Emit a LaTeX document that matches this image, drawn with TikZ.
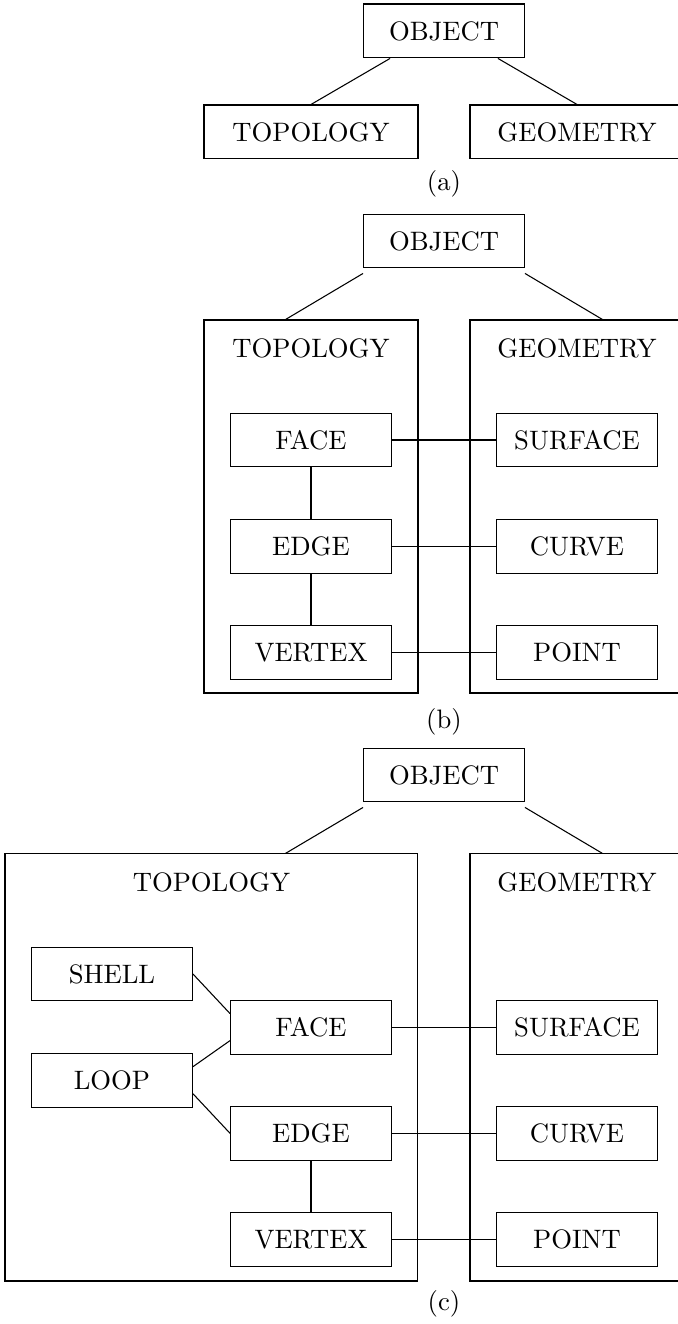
\documentclass[tikz,border=0pt]{standalone}
\usetikzlibrary{calc}
\begin{document}
\begin{tikzpicture}[
    box/.style={draw, minimum width=2.12cm, minimum height=0.71cm, inner sep=0pt},
    widebox/.style={draw, minimum width=2.821cm, minimum height=0.71cm, inner sep=0pt},
    frame/.style={draw, inner sep=0pt},
  ]
  \useasboundingbox (0,0) rectangle (8.936,17.45);

  % (a) object split into topology and geometry
  \node[box] (objA) at (5.852,17.042) {OBJECT};
  \node[widebox] (topoA) at (4.099,15.711) {TOPOLOGY};
  \node[widebox] (geoA) at (7.605,15.711) {GEOMETRY};
  \draw ($(objA.south west)!0.167!(objA.south east)$) -- (topoA.north);
  \draw ($(objA.south east)!0.167!(objA.south west)$) -- (geoA.north);
  \node (capA) at (5.852,15.025) {(a)};

  % (b) face, edge, vertex and their geometry
  \node[box] (objB) at (5.852,14.274) {OBJECT};
  \node[frame, minimum width=2.821cm, minimum height=4.916cm] (topoB) at (4.099,10.774) {};
  \node[frame, minimum width=2.821cm, minimum height=4.916cm] (geoB) at (7.605,10.774) {};
  \node (topoBtxt) at (4.099,12.864) {TOPOLOGY};
  \node (geoBtxt) at (7.605,12.864) {GEOMETRY};
  \draw ([yshift=-0.066cm]objB.south west) -- ([xshift=-1.753cm]topoB.north east);
  \draw ([yshift=-0.066cm]objB.south east) -- ([xshift=1.753cm]geoB.north west);
  \node[box] (faceB) at (4.099,11.651) {FACE};
  \node[box] (edgeB) at (4.099,10.251) {EDGE};
  \node[box] (vertB) at (4.099,8.851) {VERTEX};
  \node[box] (surfB) at (7.605,11.651) {SURFACE};
  \node[box] (curveB) at (7.605,10.251) {CURVE};
  \node[box] (pointB) at (7.605,8.851) {POINT};
  \draw (faceB) -- (edgeB);
  \draw (edgeB) -- (vertB);
  \draw (faceB) -- (surfB);
  \draw (edgeB) -- (curveB);
  \draw (vertB) -- (pointB);
  \node (capB) at (5.852,7.934) {(b)};

  % (c) with shell and loop added
  \node[box] (objC) at (5.852,7.236) {OBJECT};
  \node[frame, minimum width=5.443cm, minimum height=5.628cm] (topoC) at (2.787,3.381) {};
  \node[frame, minimum width=2.821cm, minimum height=5.628cm] (geoC) at (7.605,3.381) {};
  \node (topoCtxt) at (2.787,5.826) {TOPOLOGY};
  \node (geoCtxt) at (7.605,5.826) {GEOMETRY};
  \draw ([yshift=-0.066cm]objC.south west) -- ([xshift=-1.753cm]topoC.north east);
  \draw ([yshift=-0.066cm]objC.south east) -- ([xshift=1.753cm]geoC.north west);
  \node[box] (shell) at (1.476,4.613) {SHELL};
  \node[box] (loop) at (1.476,3.213) {LOOP};
  \node[box] (face) at (4.099,3.913) {FACE};
  \node[box] (edge) at (4.099,2.513) {EDGE};
  \node[box] (vertex) at (4.099,1.113) {VERTEX};
  \node[box] (surf) at (7.605,3.913) {SURFACE};
  \node[box] (curve) at (7.605,2.513) {CURVE};
  \node[box] (point) at (7.605,1.113) {POINT};
  \draw (shell.east) -- ([yshift=0.178cm]face.west);
  \draw ([yshift=0.178cm]loop.east) -- ([yshift=-0.178cm]face.west);
  \draw ([yshift=-0.178cm]loop.east) -- (edge.west);
  \draw (edge) -- (vertex);
  \draw (face) -- (surf);
  \draw (edge) -- (curve);
  \draw (vertex) -- (point);
  \node (capC) at (5.852,0.264) {(c)};
\end{tikzpicture}
\end{document}
